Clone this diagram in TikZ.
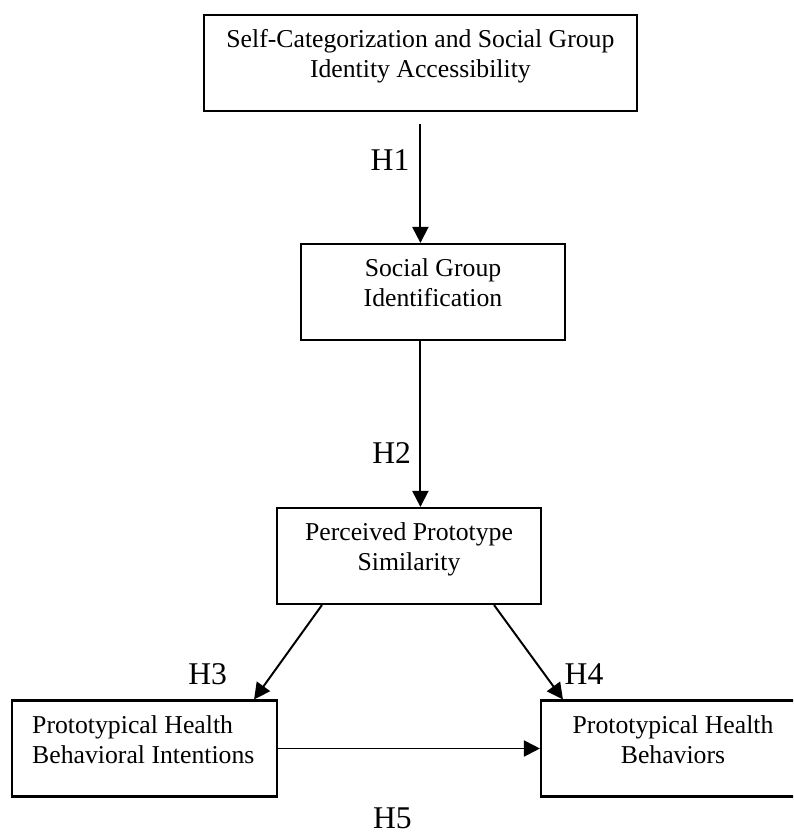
\documentclass[tikz,border=0pt]{standalone}
\usepackage{fontspec}
\setmainfont{Liberation Serif}
\usetikzlibrary{arrows.meta}

\begin{document}
\begin{tikzpicture}[
    box/.style={draw, line width=1.5pt, minimum height=2.4cm, inner sep=0pt},
    boxtext/.style={inner sep=0pt, align=center, font=\fontsize{18.3}{21.3}\selectfont},
    hyp/.style={inner sep=0pt, font=\fontsize{22.5}{27}\selectfont},
    link/.style={line width=1.4pt, ->},
    >={Triangle[length=11.5pt,width=11.5pt]}
]
    % Page size of the reference (the last box runs off the right edge)
    \clip (0,0) rectangle (19.825,-20.825);

    % The five constructs
    \node[box, minimum width=10.825cm] (acc) at (10.51,-1.575) {};
    \node[box, minimum width=6.6cm] (ident) at (10.825,-7.3) {};
    \node[box, minimum width=6.6cm] (sim) at (10.225,-13.9) {};
    \node[box, minimum width=6.625cm] (bhi) at (3.6125,-18.7125) {};
    \node[box, minimum width=6.6cm] (beh) at (16.825,-18.7125) {};

    % Their texts, hung from the top of each box
    \node[boxtext, anchor=north] (acctext) at ([yshift=-0.39cm]acc.north)
        {Self-Categorization and Social Group\\Identity Accessibility};
    \node[boxtext, anchor=north] (identtext) at ([yshift=-0.39cm]ident.north)
        {Social Group\\Identification};
    \node[boxtext, anchor=north] (simtext) at ([yshift=-0.39cm]sim.north)
        {Perceived Prototype\\Similarity};
    \node[boxtext, align=left, anchor=north west] (bhitext) at ([xshift=0.525cm,yshift=-0.39cm]bhi.north west)
        {Prototypical Health\\Behavioral Intentions};
    \node[boxtext, anchor=north] (behtext) at ([yshift=-0.39cm]beh.north)
        {Prototypical Health\\Behaviors};

    % Hypothesised paths
    \coordinate (h1start) at ([yshift=-0.3cm]acc.south);
    \draw[link] (h1start) -- (h1start |- ident.north);
    \draw[link] (acc.south |- ident.south) -- (acc.south |- sim.north);
    \draw[link] ([xshift=1.15cm]sim.south west) -- ([xshift=-0.6cm]bhi.north east);
    \draw[link] ([xshift=-1.2cm]sim.south east) -- ([xshift=0.575cm]beh.north west);
    \draw[link] (bhi.east) -- (beh.west);

    % Hypothesis labels
    \foreach \i/\x/\y in {1/9.75/-4.0, 2/9.79/-11.33, 3/5.19/-16.85, 4/14.6/-16.86, 5/9.81/-20.45} {
        \node[hyp] (h\i) at (\x,\y) {H\i};
    }
\end{tikzpicture}
\end{document}
